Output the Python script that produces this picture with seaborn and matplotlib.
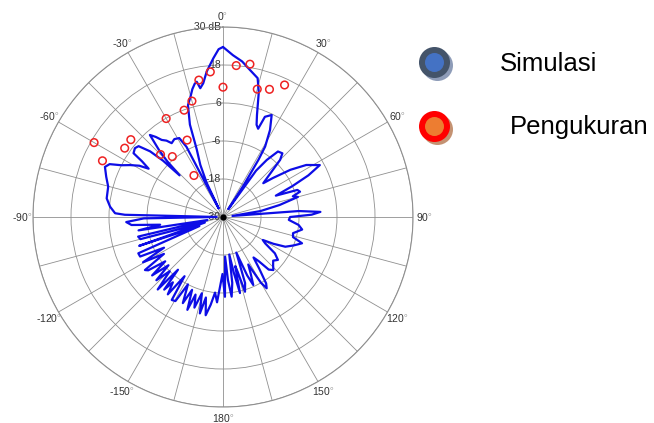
import numpy as np
import matplotlib
matplotlib.use("Agg")
import matplotlib.pyplot as plt
import seaborn as sns
from matplotlib import transforms

# simulasi: sudut (derajat, searah jarum jam dari atas) dan level (dB)
sim_deg = [0, 3.5, 7, 10.4, 14, 16, 18.4, 20, 21.7, 22.7, 25.5, 28.4, 30.9, 31.8, 33, 34,
           35.5, 37.5, 40, 43, 45, 47, 50, 52, 55, 58, 61.8, 64, 66, 68, 70, 71.8, 73.5, 75,
           78, 81, 83.5, 85.5, 87, 88.5, 90, 92.5, 96, 99, 103, 106, 108.4, 112, 115.5, 118,
           120, 122, 125, 128, 131, 134, 136.5, 139, 141, 143, 145, 147, 148.5, 150, 152, 154,
           156, 157.5, 159.5, 161.5, 163.6, 165, 166, 167.4, 169, 170.5, 172, 173.8, 175.5, 177,
           178.6, 180.5, 182, 184, 186, 188, 190, 192, 193.5, 195.5, 197.5, 199.5, 201, 203,
           205, 207.5, 209.5, 211.7, 213, 215.5, 217.5, 219, 220.5, 222, 224.5, 226.5, 228.5,
           230.5, 232.5, 234.5, 235.8, 238, 240.5, 242.5, 244.5, 246.8, 249, 251, 253, 255, 257,
           259, 261, 263, 265, 267, 269, 270.3, 271.3, 272, 275.2, 279.1, 284.8, 289, 293, 295,
           297, 299.2, 301.5, 303, 304.5, 305.5, 308, 310, 312, 313.2, 313.8, 315, 316.2, 318.3,
           320, 321.5, 323.5, 325.2, 328, 331, 332.5, 333.3, 334.5, 336.5, 338.8, 340.3, 342.6,
           345, 346.5, 348, 349, 350, 351.6, 353.6, 356.5, 358.5, 360]
sim_db = [23.7, 21.2, 19.5, 17.2, 15.2, 11, 4, 1, 0, 4.3, 5.7, 1.2, -4.1, -8.8, -18, -27,
          -12, -7.3, -3, -2.5, -4.5, -9, -13.4, -10, -4, 1, 4.7, 0, -6, -12, -5, -4.4, -7, -5.5,
          -11.7, -18, -27, -6, 0.8, -2, -8.8, -9.2, -6, -4.7, -7.3, -7, -3.7, -6, -8.2, -12,
          -15.5, -14.3, -10, -8, -9, -8, -6.9, -8, -12, -14, -10, -5, -3.6, -6, -13, -10,
          -6.5, -10, -18, -8, -5.4, -12, -14, -5.4, -12, -18, -9, -4.7, -10, -17.5,
          -4.8, -12, -9, -3, -6, -2, 1.5, -4, 1.3, -5, 0, -4, 1.4, -5,
          0, -6, 0.5, 0.8, -7.7, 0, -4, -0.5, -8.1, 0.8, -6, -1, -7,
          -1, -7, -1, -0.2, -8, -1, -9, -1, -0.9, -22, -2, -24, -3, -2.5,
          -25, -3, -10, -1, 0.6, -5, -28, 1, 4.1, 5.8, 7.2, 7.5, 9, 10.5, 9.5,
          6, 3.6, 1, -2, 1, 4.7, 5.3, 4.8, 1, -4, -11, -5, -1, 4.7,
          3, 1.1, 0, -1.6, -1, -1.5, -5, -27, -18, -12, -7, 1, 7,
          9.5, 11.5, 13, 13.5, 11.3, 12.7, 16.2, 20.2, 23, 23.7]

# pengukuran
meas_deg = [0, 5, 10, 15, 20, 25, -5, -10, -15, -20, -25, -30, -35, -40, -45, -50, -55, -60, -65]
meas_db = [11, 18, 19, 11.8, 12.9, 16, 16, 13.9, 7.9, 5.9, -3.2, 5.9, -14, -5.1, -2.1, 8, 7.9, 17, 12]

ring_db = [-30, -18, -6, 6, 18, 30]
ring_labels = ["-30", "-18", "-6", "6", "18", "30 dB"]
angle_ticks = list(range(0, 360, 15))
angle_names = {0: "0", 30: "30", 60: "60", 90: "90", 120: "120", 150: "150", 180: "180",
               210: "-150", 240: "-120", 270: "-90", 300: "-60", 330: "-30"}

sns.set_style("white")
plt.rcParams['font.family'] = ['Liberation Sans', 'DejaVu Sans']
plt.rcParams['mathtext.fontset'] = 'custom'
plt.rcParams['mathtext.rm'] = 'Liberation Sans'

fig = plt.figure(figsize=(6.54, 4.23), dpi=100)
ax = fig.add_axes([33 / 654, 16 / 423, 380 / 654, 380 / 423], projection='polar')
ax.set_theta_zero_location('N')
ax.set_theta_direction(-1)

sns.lineplot(x=np.deg2rad(sim_deg), y=sim_db, ax=ax, sort=False, estimator=None,
             color='#0d0de6', linewidth=1.6, zorder=3)
sns.scatterplot(x=np.deg2rad(meas_deg), y=meas_db, ax=ax, marker='o', s=30,
                facecolor='none', edgecolor='#ee2222', linewidth=1.1, zorder=4)
ax.plot(0, -30, 'o', color='black', markersize=3.5, zorder=5)

ax.set_ylim(-30, 30)
ax.set_yticks(ring_db)
ax.set_yticklabels([])
labels = [(angle_names[a] + r"$^{\circ}$") if a in angle_names else "" for a in angle_ticks]
ax.set_thetagrids(angle_ticks, labels)
ax.tick_params(axis='x', pad=-2.5, labelsize=7.5, colors='#333333')
ax.grid(True, color='#8f8f8f', linewidth=0.6)
ax.spines['polar'].set_color('#8f8f8f')
ax.spines['polar'].set_linewidth(0.8)

off = transforms.offset_copy(ax.transData, fig=fig, x=-2, y=0, units='dots')
for r, lab in zip(ring_db, ring_labels):
    ax.text(0, r, lab, transform=off, ha='right', va='center', fontsize=7.5,
            color='#333333', zorder=2)

# legenda
lax = fig.add_axes([0, 0, 1, 1])
lax.set_xlim(0, 654)
lax.set_ylim(423, 0)
lax.axis('off')
d_out = (31 * 0.72) ** 2
d_in = (19 * 0.72) ** 2
lax.scatter([437], [65], s=d_out, color='#8e9cb8', linewidths=0)
lax.scatter([434], [62], s=d_out, color='#44546a', linewidths=0)
lax.scatter([434], [62], s=d_in, color='#4472c4', linewidths=0)
lax.scatter([437], [129], s=d_out, color='#c49272', linewidths=0)
lax.scatter([434], [126], s=d_out, color='#ff0000', linewidths=0)
lax.scatter([434], [126], s=d_in, color='#ed7d31', linewidths=0)
lax.text(500, 64, "Simulasi", fontsize=18.5, va='center', ha='left', color='black')
lax.text(510, 127, "Pengukuran", fontsize=18.5, va='center', ha='left', color='black')

fig.savefig("out.png", dpi=100)
